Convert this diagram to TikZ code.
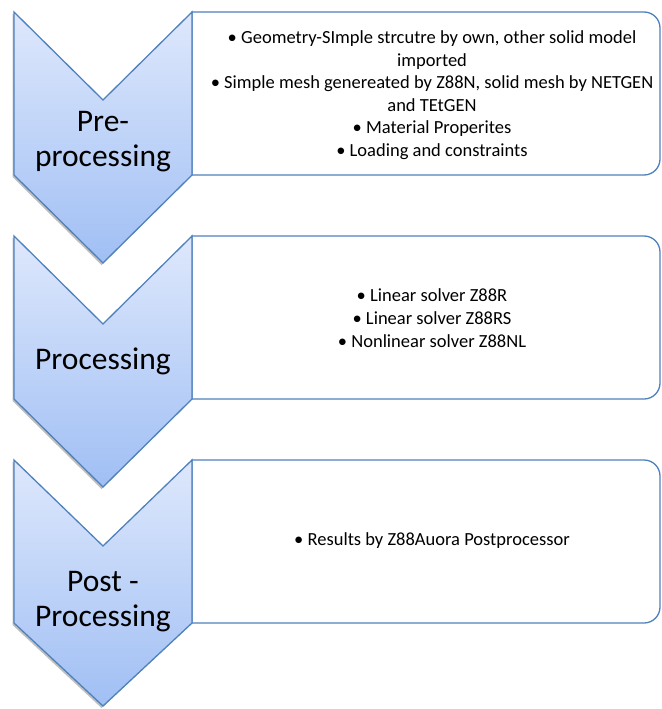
\documentclass[tikz,border=0pt]{standalone}
\usepackage{fontspec}
\setmainfont{Carlito}
\usetikzlibrary{shadows}

\definecolor{edgeblue}{RGB}{79,129,189}
\definecolor{chevtop}{RGB}{222,232,252}
\definecolor{chevbot}{RGB}{160,191,244}

\tikzset{
  chevron/.style={draw=edgeblue,line width=1.3pt,top color=chevtop,bottom color=chevbot,
    drop shadow={shadow xshift=-1.5pt,shadow yshift=-2pt,opacity=.25,fill=black}},
  infobox/.style={draw=edgeblue,line width=1.3pt,fill=white},
  stagetext/.style={align=center,font=\fontsize{31.5}{35}\selectfont},
  itemtext/.style={align=center,font=\fontsize{18.5}{23}\selectfont},
}

\begin{document}
\begin{tikzpicture}[x=1pt,y=-1pt]
  \useasboundingbox (0,0) rectangle (661,709);

  % boxes on the right
  \draw[infobox] (192,12) -- (644,12) arc[start angle=-90,end angle=0,radius=16]
    -- (660,159) arc[start angle=0,end angle=90,radius=16] -- (192,175) -- cycle;
  \draw[infobox] (192,236) -- (644,236) arc[start angle=-90,end angle=0,radius=16]
    -- (660,383) arc[start angle=0,end angle=90,radius=16] -- (192,399) -- cycle;
  \draw[infobox] (192,460) -- (644,460) arc[start angle=-90,end angle=0,radius=16]
    -- (660,607) arc[start angle=0,end angle=90,radius=16] -- (192,623) -- cycle;

  % chevrons
  \draw[chevron] (14,12) -- (103,100) -- (192,12) -- (192,175) -- (103,263) -- (14,175) -- cycle;
  \draw[chevron] (14,236) -- (103,324) -- (192,236) -- (192,399) -- (103,487) -- (14,399) -- cycle;
  \draw[chevron] (14,460) -- (103,546) -- (192,460) -- (192,623) -- (103,706) -- (14,623) -- cycle;

  \node[stagetext] (pre) at (103,142) {Pre-\\processing};
  \node[stagetext] (proc) at (103,361) {Processing};
  \node[stagetext] (post) at (103,602) {Post -\\Processing};

  \node[itemtext,font=\fontsize{18.5}{22.5}\selectfont] (preitems) at (432,95) {\textbullet~Geometry-SImple strcutre by own, other solid model\\
    imported\\
    \textbullet~Simple mesh genereated by Z88N, solid mesh by NETGEN\\
    and TEtGEN\\
    \textbullet~Material Properites\\
    \textbullet~Loading and constraints};
  \node[itemtext] (procitems) at (432,318) {\textbullet~Linear solver Z88R\\
    \textbullet~Linear solver Z88RS\\
    \textbullet~Nonlinear solver Z88NL};
  \node[itemtext] (postitems) at (432,541) {\textbullet~Results by Z88Auora Postprocessor};
\end{tikzpicture}
\end{document}
